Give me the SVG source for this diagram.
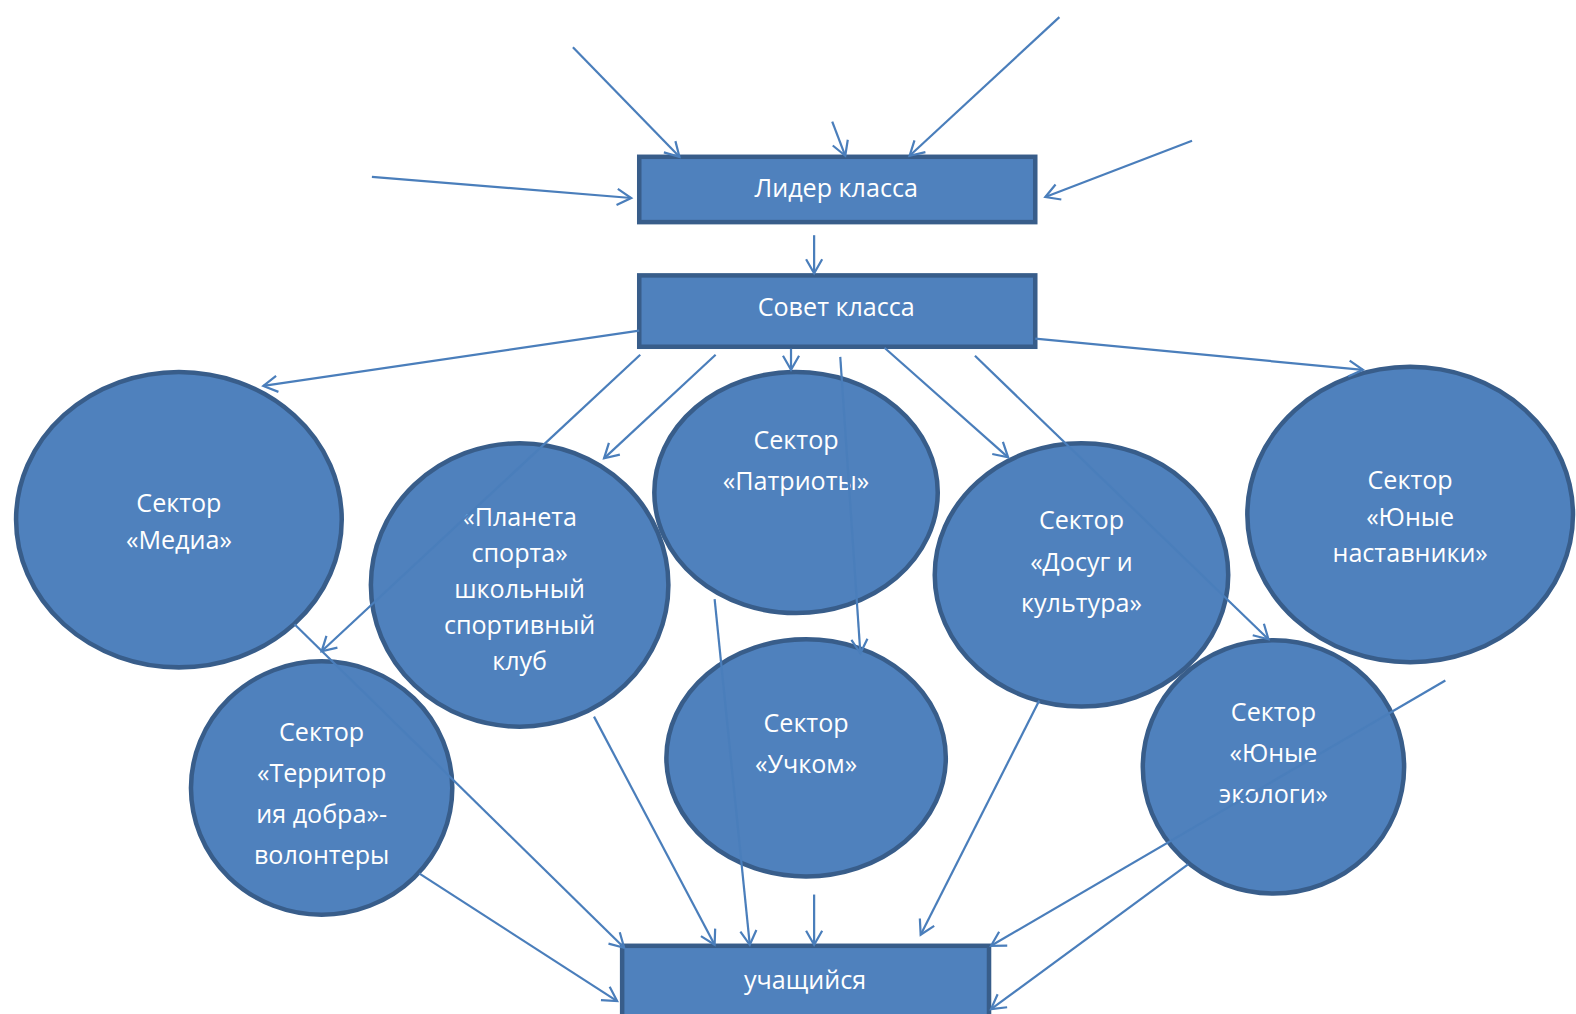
<svg xmlns="http://www.w3.org/2000/svg" width="1576" height="1014" viewBox="0 0 1576 1014">
<defs>
<style>
.box{fill:#4f81bd;stroke:#385d8a;stroke-width:4.5}
.node{fill:#4f81bd;stroke:#385d8a;stroke-width:4.5}
.lbl{font-family:"Open Sans","Liberation Sans",sans-serif;font-size:25px;fill:#ffffff;text-anchor:middle}
.con{stroke:#4a7ebb;stroke-width:2.2;fill:none;marker-end:url(#arr)}
</style>
<marker id="arr" markerUnits="userSpaceOnUse" markerWidth="30" markerHeight="30" viewBox="-15 -15 30 30" refX="0" refY="0" orient="auto">
<path d="M-14,-8 L0,0 L-14,8" fill="none" stroke="#4a7ebb" stroke-width="2.2"/>
</marker>
</defs>
<rect width="1576" height="1014" fill="#ffffff"/>
<g transform="scale(1.0051)">
<g id="n-lider"><rect class="box" x="636" y="156" width="394" height="65"/><text class="lbl" x="832" y="196">Лидер класса</text></g>
<g id="n-sovet"><rect class="box" x="636" y="274" width="394" height="71"/><text class="lbl" x="832" y="314">Совет класса</text></g>
<g id="n-media"><ellipse class="node" cx="178" cy="517" rx="162" ry="147"/><text class="lbl" x="178" y="509">Сектор</text><text class="lbl" x="178" y="546">«Медиа»</text></g>
<g id="n-planeta"><ellipse class="node" cx="517" cy="582" rx="148" ry="141"/><text class="lbl" x="517" y="523">«Планета</text><text class="lbl" x="517" y="559">спорта»</text><text class="lbl" x="517" y="595">школьный</text><text class="lbl" x="517" y="631">спортивный</text><text class="lbl" x="517" y="667">клуб</text></g>
<g id="n-patrioty"><ellipse class="node" cx="792" cy="490" rx="141" ry="120"/><text class="lbl" x="792" y="447">Сектор</text><text class="lbl" x="792" y="488">«Патриоты»</text></g>
<g id="n-dosug"><ellipse class="node" cx="1076" cy="572" rx="146" ry="131"/><text class="lbl" x="1076" y="526">Сектор</text><text class="lbl" x="1076" y="568">«Досуг и</text><text class="lbl" x="1076" y="609">культура»</text></g>
<g id="n-nastavniki"><ellipse class="node" cx="1403" cy="512" rx="162" ry="147"/><text class="lbl" x="1403" y="487">Сектор</text><text class="lbl" x="1403" y="523">«Юные</text><text class="lbl" x="1403" y="559">наставники»</text></g>
<g id="n-territoriya"><ellipse class="node" cx="320" cy="784" rx="130" ry="126"/><text class="lbl" x="320" y="737">Сектор</text><text class="lbl" x="320" y="778">«Территор</text><text class="lbl" x="320" y="819">ия добра»-</text><text class="lbl" x="320" y="860">волонтеры</text></g>
<g id="n-uchkom"><ellipse class="node" cx="802" cy="754" rx="139" ry="118"/><text class="lbl" x="802" y="728">Сектор</text><text class="lbl" x="802" y="769">«Учком»</text></g>
<g id="n-ekologi"><ellipse class="node" cx="1267" cy="763" rx="130" ry="126"/><text class="lbl" x="1267" y="717">Сектор</text><text class="lbl" x="1267" y="758">«Юные</text><text class="lbl" x="1267" y="799">экологи»</text></g>
<g id="n-uchashchiysya"><rect class="box" x="619" y="941" width="365" height="80"/><text class="lbl" x="801" y="984">учащийся</text></g>
<g id="connectors">
<line class="con" x1="570" y1="47" x2="676" y2="156"/>
<line class="con" x1="828" y1="121" x2="841" y2="155"/>
<line class="con" x1="1054" y1="17" x2="905" y2="155"/>
<line class="con" x1="370" y1="176" x2="628" y2="197"/>
<line class="con" x1="1186" y1="140" x2="1040" y2="196"/>
<line class="con" x1="810" y1="234" x2="810" y2="272"/>
<line class="con" x1="636" y1="329" x2="262" y2="384"/>
<line class="con" x1="637" y1="353" x2="320" y2="648"/>
<line class="con" x1="712" y1="353" x2="601" y2="456"/>
<line class="con" x1="787" y1="347" x2="787" y2="368"/>
<line class="con" x1="836" y1="355" x2="856" y2="650"/>
<line class="con" x1="880" y1="346" x2="1003" y2="455"/>
<line class="con" x1="970" y1="354" x2="1262" y2="636"/>
<line class="con" x1="1030" y1="337" x2="1356" y2="368"/>
<line class="con" x1="293" y1="621" x2="621" y2="943"/>
<line class="con" x1="417" y1="869" x2="614" y2="996"/>
<line class="con" x1="591" y1="713" x2="711" y2="940"/>
<line class="con" x1="711" y1="596" x2="746" y2="940"/>
<line class="con" x1="810" y1="890" x2="810" y2="940"/>
<line class="con" x1="1034" y1="697" x2="916" y2="930"/>
<line class="con" x1="1438" y1="677" x2="986" y2="941"/>
<line class="con" x1="1182" y1="860" x2="986" y2="1004"/>
</g>
</g>
</svg>
